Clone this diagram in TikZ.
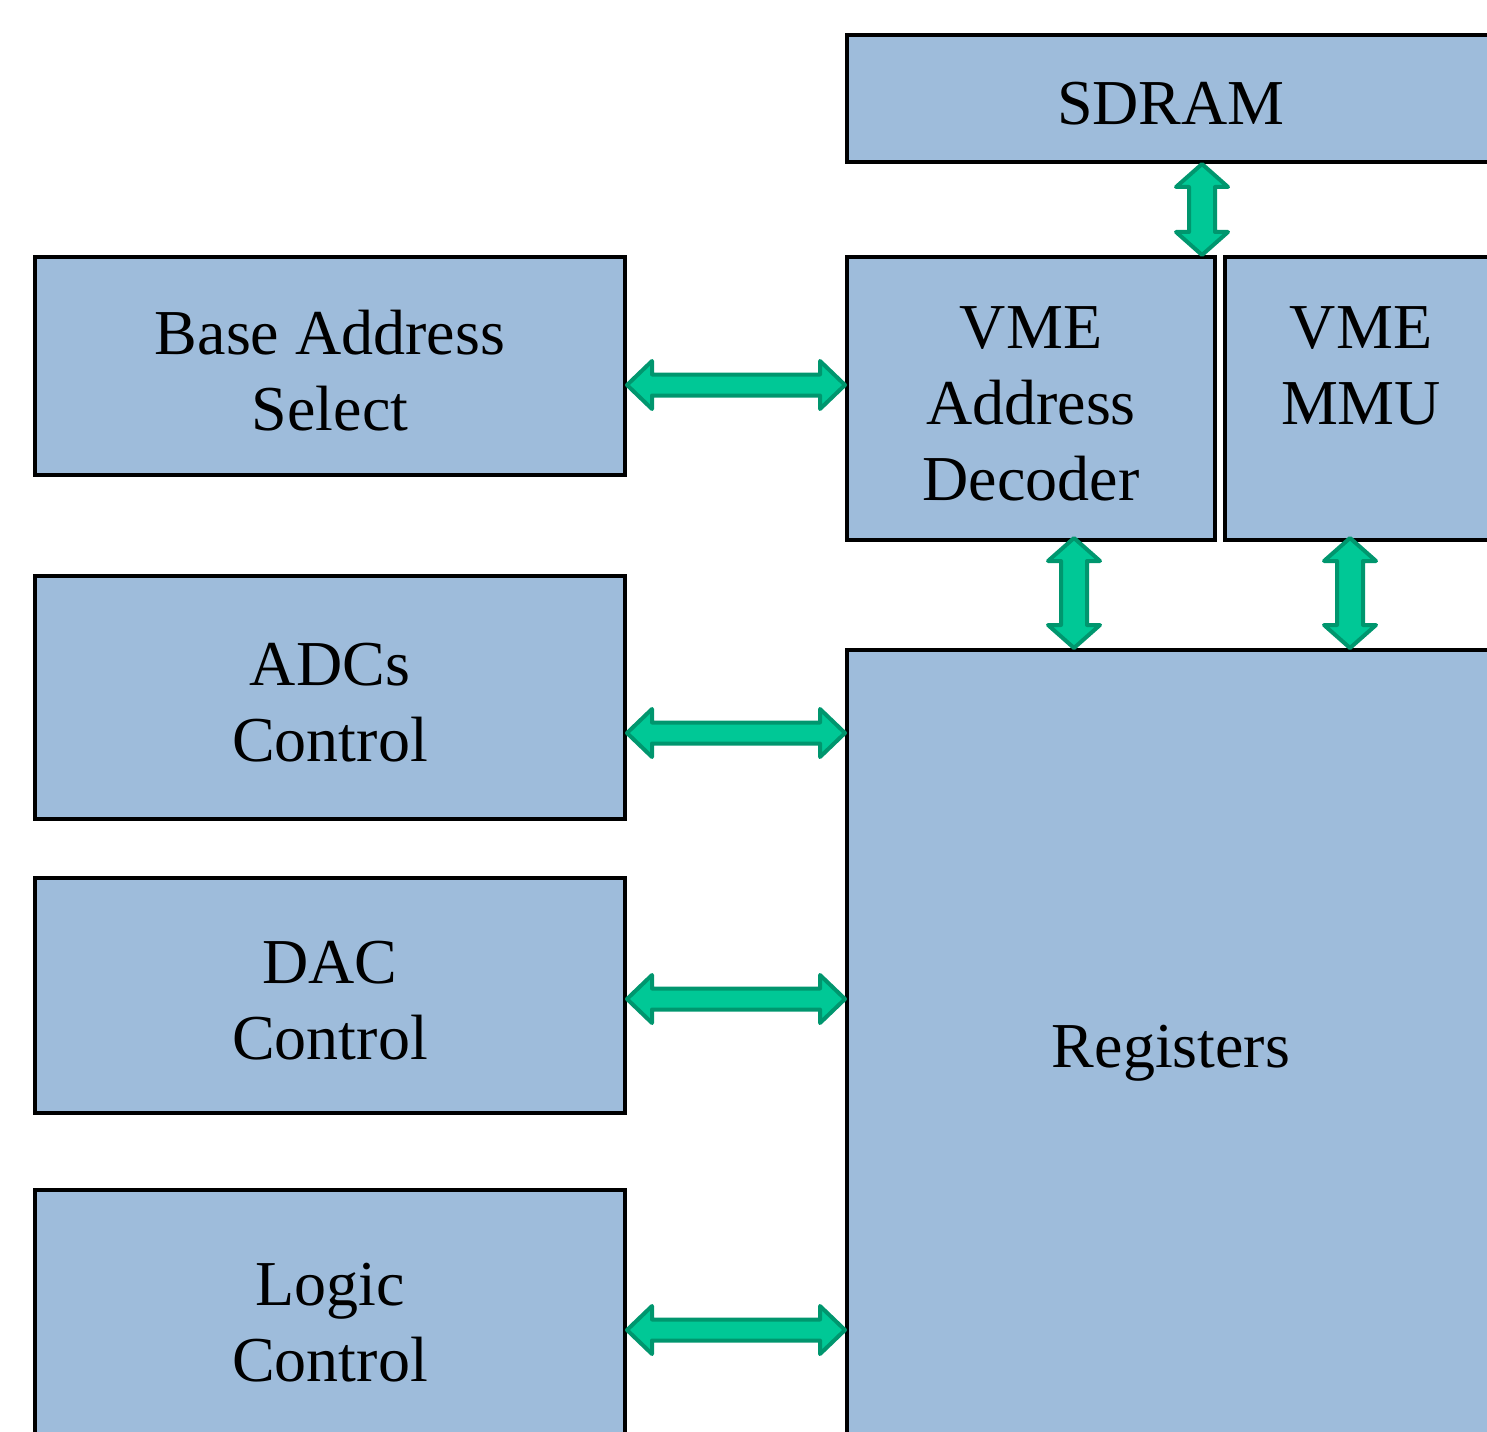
\documentclass[tikz,border=0pt]{standalone}
\usepackage{fontspec}
\setmainfont{Liberation Serif}
\usetikzlibrary{calc}
\definecolor{boxblue}{RGB}{158,188,219}
\definecolor{busfill}{RGB}{0,200,150}
\definecolor{busline}{RGB}{0,150,110}
\tikzset{
  block/.style={draw=black, line width=4pt, fill=boxblue, inner sep=0pt,
    label={[btext]center:#1}},
  btext/.style={align=center, yshift=-5pt, inner sep=0pt,
    font=\fontsize{64}{76}\selectfont},
  bus/.style={draw=busline, fill=busfill, line width=4pt, line join=round}
}
% horizontal double-headed bus arrow between two points (left to right)
\newcommand\hbus[2]{\draw[bus] let \p1=(#1), \p2=(#2) in
  (\x1,\y1) -- (\x1+25,\y1+24) -- (\x1+25,\y1+10.5) -- (\x2-25,\y1+10.5)
  -- (\x2-25,\y1+24) -- (\x2,\y1) -- (\x2-25,\y1-24) -- (\x2-25,\y1-10.5)
  -- (\x1+25,\y1-10.5) -- (\x1+25,\y1-24) -- cycle;}
% vertical double-headed bus arrow between two points (top to bottom)
\newcommand\vbus[2]{\draw[bus] let \p1=(#1), \p2=(#2) in
  (\x1,\y1) -- (\x1+26,\y1-23) -- (\x1+13,\y1-23) -- (\x1+13,\y2+23)
  -- (\x1+26,\y2+23) -- (\x1,\y2) -- (\x1-26,\y2+23) -- (\x1-13,\y2+23)
  -- (\x1-13,\y1-23) -- (\x1-26,\y1-23) -- cycle;}
\begin{document}
\begin{tikzpicture}[x=1pt,y=-1pt]
\useasboundingbox (0,0) rectangle (1487,1431);
\clip (0,0) rectangle (1487,1431);

% memory and VME interface blocks
\node[block={SDRAM}, minimum width=648, minimum height=127] (sdram) at (1171,98.5) {};
\node[block={VME\\Address\\Decoder}, minimum width=368, minimum height=283] (dec) at (1031,398.5) {};
\node[block={VME\\MMU\\~}, minimum width=272, minimum height=283] (mmu) at (1361,398.5) {};
\node[block={Registers}, minimum width=648, minimum height=796] (reg) at (1171,1048) {};

% peripheral control blocks
\node[block={Base Address\\Select}, minimum width=590, minimum height=218] (base) at (330,366) {};
\node[block={ADCs\\Control}, minimum width=590, minimum height=243] (adc) at (330,697.5) {};
\node[block={DAC\\Control}, minimum width=590, minimum height=235] (dac) at (330,995.5) {};
\node[block={Logic\\Control}, minimum width=590, minimum height=256] (logic) at (330,1318) {};

% bus connections
\vbus{sdram.south -| 1202,0}{dec.north -| 1202,0}
\vbus{[yshift=4pt]dec.south -| 1074,0}{reg.north -| 1074,0}
\vbus{[yshift=4pt]mmu.south -| 1350,0}{reg.north -| 1350,0}
\hbus{base.east |- 0,385}{dec.west |- 0,385}
\hbus{adc.east |- 0,733}{reg.west |- 0,733}
\hbus{dac.east |- 0,999}{reg.west |- 0,999}
\hbus{logic.east |- 0,1330}{reg.west |- 0,1330}
\end{tikzpicture}
\end{document}
